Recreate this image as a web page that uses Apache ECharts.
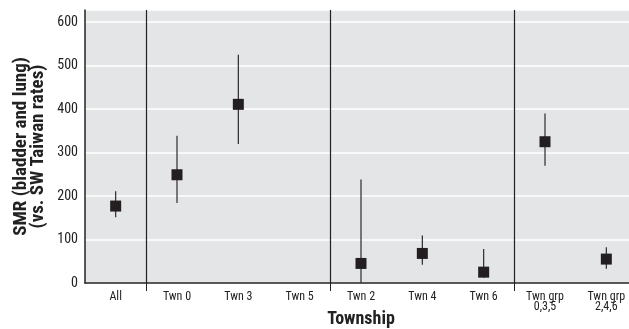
<!DOCTYPE html>
<html><head><meta charset="utf-8">
<script src="https://cdn.jsdelivr.net/npm/echarts@6/dist/echarts.min.js"></script>
<style>html,body{margin:0;padding:0;background:#fff}#c{width:629px;height:329px}</style>
</head><body><div id="c"></div>
<script>
const categories = ['All','Twn 0','Twn 3','Twn 5','Twn 2','Twn 4','Twn 6','Twn grp\n0,3,5','Twn grp\n2,4,6'];
const smr   = [177, 249, 411, null, 45, 68, 25, 325, 55];
const lower = [151, 184, 320, null, 0, 42, 12, 270, 33];
const upper = [211, 339, 525, null, 238, 109, 78, 390, 82];
const groupStarts = [1, 4, 7];
const yTicks = [0, 100, 200, 300, 400, 500, 600];

const FONT = "'Liberation Sans Narrow', 'Roboto Condensed', 'Liberation Sans', sans-serif";
const chart = echarts.init(document.getElementById('c'));
chart.setOption({
  animation: false,
  grid: { left: 85, right: -8, top: 10, bottom: 46, containLabel: false, outerBoundsMode: 'none',
    show: true, backgroundColor: '#e4e5e7', borderWidth: 0 },
  xAxis: {
    type: 'category', data: categories, boundaryGap: true,
    name: 'Township', nameLocation: 'middle', nameGap: 27, nameMoveOverlap: false,
    nameTextStyle: { fontFamily: FONT, fontWeight: 'bold', fontSize: 18, color: '#222' },
    axisLine: { show: true, lineStyle: { color: '#222', width: 1.5 } },
    axisTick: { show: true, length: 8, interval: (i) => groupStarts.includes(i), lineStyle: { color: '#222' } },
    splitLine: { show: true, interval: (i) => groupStarts.includes(i), lineStyle: { color: '#222', width: 1.2 } },
    axisLabel: { interval: 0, fontFamily: FONT, fontSize: 12, color: '#222', margin: 9, lineHeight: 10 }
  },
  yAxis: {
    type: 'value', min: 0, max: 628, interval: 100,
    name: 'SMR (bladder and lung)\n(vs. SW Taiwan rates)', nameLocation: 'middle', nameGap: 38, nameRotate: 90,
    nameMoveOverlap: false,
    nameTextStyle: { fontFamily: FONT, fontWeight: 'bold', fontSize: 19, color: '#222', lineHeight: 17 },
    axisLine: { show: true, lineStyle: { color: '#222', width: 1.5 } },
    axisTick: { show: false },
    axisLabel: { fontFamily: FONT, fontSize: 14, color: '#222', margin: 7, showMaxLabel: false,
      formatter: (v) => yTicks.includes(v) ? String(v) : '' },
    splitLine: { show: true, lineStyle: { color: '#ffffff', width: 1.5 } }
  },
  series: [
    {
      type: 'custom',
      data: categories.map((c, i) => [i, lower[i], upper[i]]),
      renderItem: function (params, api) {
        if (api.value(1) == null || isNaN(api.value(1))) return null;
        const p1 = api.coord([api.value(0), api.value(1)]);
        const p2 = api.coord([api.value(0), api.value(2)]);
        return { type: 'line', shape: { x1: p1[0], y1: p1[1], x2: p2[0], y2: p2[1] },
          style: { stroke: '#2a2a2a', lineWidth: 1.2 } };
      },
      z: 2
    },
    {
      type: 'scatter', data: smr, symbol: 'rect', symbolSize: 11,
      itemStyle: { color: '#231f20', opacity: 1 }, z: 3
    }
  ]
});
</script></body></html>
